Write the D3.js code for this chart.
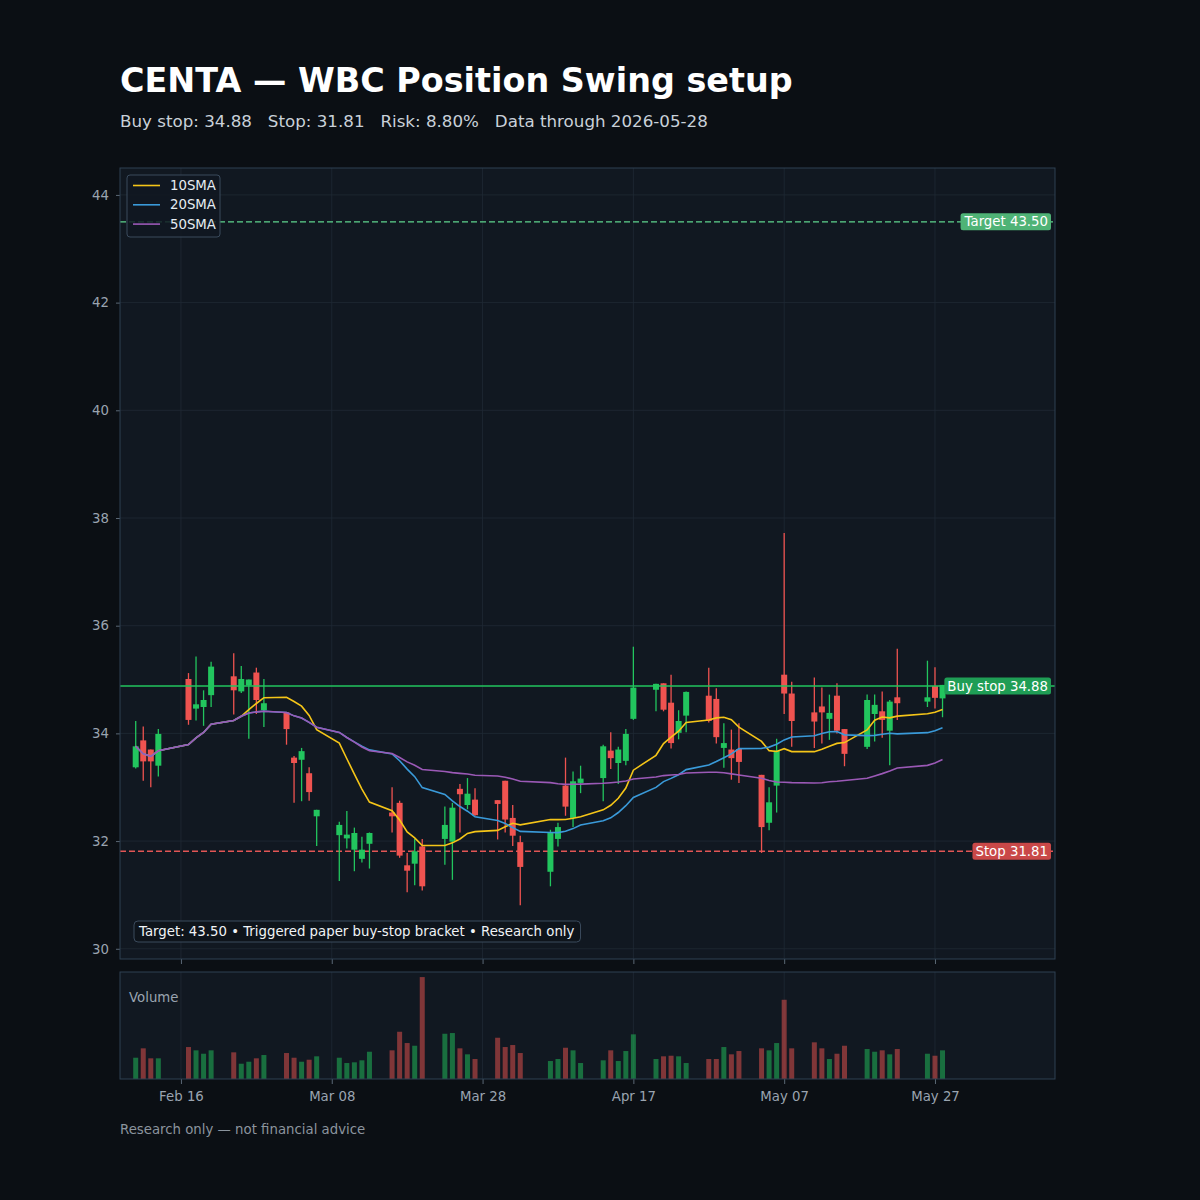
<!DOCTYPE html>
<html><head><meta charset="utf-8">
<script src="https://cdn.jsdelivr.net/npm/d3@7"></script>
<style>
html,body{margin:0;padding:0;background:#0b0f14;}
svg{display:block;font-family:"DejaVu Sans",sans-serif;}
text{white-space:pre;}
</style>
</head><body>
<svg id="c" width="1200" height="1200"></svg>
<script>
// ---------- data ----------
const dates = ["2026-02-10","2026-02-11","2026-02-12","2026-02-13","2026-02-17","2026-02-18","2026-02-19","2026-02-20",
"2026-02-23","2026-02-24","2026-02-25","2026-02-26","2026-02-27","2026-03-02","2026-03-03","2026-03-04","2026-03-05","2026-03-06",
"2026-03-09","2026-03-10","2026-03-11","2026-03-12","2026-03-13","2026-03-16","2026-03-17","2026-03-18","2026-03-19","2026-03-20",
"2026-03-23","2026-03-24","2026-03-25","2026-03-26","2026-03-27","2026-03-30","2026-03-31","2026-04-01","2026-04-02",
"2026-04-06","2026-04-07","2026-04-08","2026-04-09","2026-04-10","2026-04-13","2026-04-14","2026-04-15","2026-04-16","2026-04-17",
"2026-04-20","2026-04-21","2026-04-22","2026-04-23","2026-04-24","2026-04-27","2026-04-28","2026-04-29","2026-04-30","2026-05-01",
"2026-05-04","2026-05-05","2026-05-06","2026-05-07","2026-05-08","2026-05-11","2026-05-12","2026-05-13","2026-05-14","2026-05-15",
"2026-05-18","2026-05-19","2026-05-20","2026-05-21","2026-05-22","2026-05-26","2026-05-27","2026-05-28"];
const opens  = [33.37,33.87,33.70,33.40,35.01,34.46,34.49,34.71,35.06,34.78,34.89,35.13,34.43,34.39,33.55,33.51,33.26,32.46,
32.11,32.05,31.84,31.67,31.95,32.53,32.71,31.55,31.58,31.90,32.04,31.99,32.97,32.67,32.77,32.76,33.12,32.43,31.98,
31.43,32.04,33.03,32.43,33.08,33.17,33.68,33.45,33.49,34.27,34.81,34.93,34.57,34.01,34.33,34.70,34.64,33.73,33.70,33.71,
33.23,32.34,33.03,35.09,34.74,34.39,34.50,34.27,34.70,34.08,33.75,34.36,34.41,34.05,34.67,34.59,34.88,34.65];
const highs  = [34.23,34.13,33.70,34.08,35.12,35.43,34.80,35.33,35.49,35.25,35.00,35.22,35.01,34.39,33.58,33.73,33.37,32.58,
32.36,32.56,32.25,32.08,32.16,33.00,32.75,31.78,32.04,32.04,32.64,32.71,33.06,33.17,32.98,32.76,33.12,32.67,32.10,
32.21,32.34,33.55,33.29,33.40,33.79,34.02,33.75,34.08,35.61,34.92,34.93,35.09,34.43,34.78,35.22,34.84,34.19,34.07,34.19,
33.23,33.00,33.90,37.72,34.96,35.04,34.85,34.72,34.93,34.08,34.72,34.72,34.78,34.62,35.57,35.35,35.23,34.90];
const lows   = [33.35,33.12,33.00,33.20,34.16,34.24,34.14,34.49,34.35,34.75,33.90,34.36,34.12,33.79,32.71,32.74,32.75,31.91,
31.26,31.86,31.44,31.60,31.49,32.16,31.69,31.05,31.18,31.08,31.56,31.28,32.16,32.59,32.47,32.03,32.16,31.91,30.81,
31.16,31.90,32.47,32.26,32.89,32.74,33.34,33.06,33.41,34.25,34.41,34.41,33.72,33.89,34.02,34.20,33.81,33.36,33.14,33.08,
31.78,32.20,32.53,34.36,33.75,33.73,33.81,33.88,34.00,33.39,33.71,33.85,33.92,33.41,34.25,34.49,34.46,34.30];
const closes = [33.76,33.48,33.48,33.99,34.25,34.54,34.62,35.24,34.80,35.01,35.00,34.62,34.56,34.08,33.45,33.67,32.91,32.58,
32.30,32.12,32.15,31.84,32.15,32.46,31.73,31.45,31.81,31.16,32.30,32.62,32.87,32.88,32.48,32.69,32.40,32.10,31.52,
32.16,32.26,32.64,33.11,33.16,33.76,33.54,33.70,33.99,34.85,34.92,34.44,33.82,34.23,34.77,34.23,33.93,33.82,33.54,33.47,
32.26,32.72,33.68,34.74,34.23,34.22,34.39,34.38,34.05,33.62,34.62,34.53,34.25,34.59,34.56,34.67,34.66,34.90];
const volumes = [213,307,207,207,320,287,253,287,267,153,173,207,240,260,213,173,193,227,
213,160,167,187,273,287,473,360,333,1020,453,460,307,247,200,413,320,340,260,
180,200,313,287,160,187,287,180,280,447,200,227,233,227,160,200,200,320,247,280,
307,287,360,793,307,367,307,200,253,333,300,273,287,247,300,253,233,287].map(v => v * 1000);

const yTickValues = [30,32,34,36,38,40,42,44];
const xTickDates = ["2026-02-16","2026-03-08","2026-03-28","2026-04-17","2026-05-07","2026-05-27"];
const smaPeriods = [10,20,50];
const smaNames = ["10SMA","20SMA","50SMA"];
const smaColors = ["#f5c518","#3a9ad9","#9b59b6"];
const buyStop = 34.88, stopLevel = 31.81, target = 43.50;
const titleText = "CENTA — WBC Position Swing setup";
const subtitleText = "Buy stop: 34.88   Stop: 31.81   Risk: 8.80%   Data through 2026-05-28";
const noteText = "Target: 43.50 • Triggered paper buy-stop bracket • Research only";
const footerText = "Research only — not financial advice";

// ---------- setup ----------
const UP = "#22c55e", DOWN = "#ef5350";
const FS = 13.3;
const parse = d3.timeParse("%Y-%m-%d");
const rows = dates.map((d,i)=>({date:parse(d), o:opens[i], h:highs[i], l:lows[i], c:closes[i], v:volumes[i]}));
const svg = d3.select("#c");
svg.append("rect").attr("width",1200).attr("height",1200).attr("fill","#0b0f14");

const L = 120, R = 1055, PT = 168, PB = 959, VT = 972, VB = 1079;
const x = d3.scaleTime().domain([new Date(2026,1,7,22), new Date(2026,5,11,22)]).range([L,R]);
const y = d3.scaleLinear().domain([29.81,44.5]).range([PB,PT]);
const yv = d3.scaleLinear().domain([0, d3.max(volumes)*1.05]).range([VB,VT]);
const xt = xTickDates.map(parse);

// panels
svg.append("rect").attr("x",L).attr("y",PT).attr("width",R-L).attr("height",PB-PT).attr("fill","#111821");
svg.append("rect").attr("x",L).attr("y",VT).attr("width",R-L).attr("height",VB-VT).attr("fill","#111821");

// grid
const grid = svg.append("g").attr("stroke","#1f2a35").attr("stroke-width",0.8);
yTickValues.forEach(v => grid.append("line").attr("x1",L).attr("x2",R).attr("y1",y(v)).attr("y2",y(v)));
xt.forEach(d => {
  grid.append("line").attr("x1",x(d)).attr("x2",x(d)).attr("y1",PT).attr("y2",PB);
  grid.append("line").attr("x1",x(d)).attr("x2",x(d)).attr("y1",VT).attr("y2",VB);
});

// axes
function styleAxis(g){
  g.select(".domain").remove();
  g.selectAll(".tick line").attr("stroke","#5b6875");
  g.selectAll(".tick text").attr("fill","#9aa4b0").attr("font-size",FS).attr("font-family","DejaVu Sans, sans-serif");
}
svg.append("g").attr("transform",`translate(${L},0)`)
  .call(d3.axisLeft(y).tickValues(yTickValues).tickSize(4).tickPadding(7).tickFormat(d3.format("d"))).call(styleAxis);
svg.append("g").attr("transform",`translate(0,${PB})`)
  .call(d3.axisBottom(x).tickValues(xt).tickSize(5).tickFormat("")).call(styleAxis);
svg.append("g").attr("transform",`translate(0,${VB})`)
  .call(d3.axisBottom(x).tickValues(xt).tickSize(5).tickPadding(8).tickFormat(d3.timeFormat("%b %d"))).call(styleAxis);

// volume bars
svg.append("g").selectAll("rect").data(rows).join("rect")
  .attr("x",d=>x(d.date)-2.5).attr("width",5)
  .attr("y",d=>yv(d.v)).attr("height",d=>VB-yv(d.v))
  .attr("fill",d=>d.c>=d.o?UP:DOWN).attr("fill-opacity",0.5);
svg.append("text").attr("x",129).attr("y",1002).attr("fill","#9aa4b0").attr("font-size",FS).text("Volume");

// level lines
function level(v,color,dash,width){
  svg.append("line").attr("x1",L).attr("x2",R).attr("y1",y(v)).attr("y2",y(v))
    .attr("stroke",color).attr("stroke-width",width).attr("stroke-dasharray",dash);
}
level(target,"#5fd38d","6,3",1.4);
level(stopLevel,"#e25555","6,3",1.4);

// candles
const cg = svg.append("g");
cg.selectAll("line").data(rows).join("line")
  .attr("x1",d=>x(d.date)).attr("x2",d=>x(d.date)).attr("y1",d=>y(d.h)).attr("y2",d=>y(d.l))
  .attr("stroke",d=>d.c>=d.o?UP:DOWN).attr("stroke-width",1.3);
cg.selectAll("rect").data(rows).join("rect")
  .attr("x",d=>x(d.date)-3).attr("width",6)
  .attr("y",d=>y(Math.max(d.o,d.c))).attr("height",d=>Math.max(1,Math.abs(y(d.o)-y(d.c))))
  .attr("fill",d=>d.c>=d.o?UP:DOWN);

level(buyStop,"#22c55e","none",1.6);

// moving averages (derived from the closes)
smaPeriods.forEach((n,k)=>{
  const vals = closes.map((c,i)=>d3.mean(closes.slice(Math.max(0,i-n+1), i+1)));
  svg.append("path").datum(vals)
    .attr("d", d3.line().x((v,i)=>x(rows[i].date)).y(v=>y(v)))
    .attr("fill","none").attr("stroke",smaColors[k]).attr("stroke-width",1.6);
});

// level labels
function tag(v,label,fill){
  const g = svg.append("g");
  const t = g.append("text").attr("x",1048).attr("y",y(v)+4.5).attr("text-anchor","end")
    .attr("fill","#ffffff").attr("font-size",FS).text(label);
  const b = t.node().getBBox();
  g.insert("rect","text").attr("x",b.x-3).attr("y",y(v)-8.5).attr("width",b.width+6).attr("height",17)
    .attr("rx",2.5).attr("fill",fill);
}
tag(target,"Target 43.50","#4fb376");
tag(buyStop,"Buy stop 34.88","#1f9d55");
tag(stopLevel,"Stop 31.81","#c94848");

// legend
const lg = svg.append("g");
lg.append("rect").attr("x",127).attr("y",175).attr("width",93).attr("height",62).attr("rx",3)
  .attr("fill","#111821").attr("fill-opacity",0.85).attr("stroke","#3a4a5c");
smaNames.forEach((nm,k)=>{
  const yy = 185.5 + k*19.3;
  lg.append("line").attr("x1",133).attr("x2",160).attr("y1",yy).attr("y2",yy).attr("stroke",smaColors[k]).attr("stroke-width",1.6);
  lg.append("text").attr("x",170).attr("y",yy+4.5).attr("fill","#e6edf3").attr("font-size",FS).text(nm);
});

// note box
const ng = svg.append("g");
const nt = ng.append("text").attr("x",139).attr("y",936).attr("fill","#f0f3f6").attr("font-size",FS).text(noteText);
const nb = nt.node().getBBox();
ng.insert("rect","text").attr("x",134).attr("y",921).attr("width",nb.width+10).attr("height",21).attr("rx",4)
  .attr("fill","#0e141b").attr("fill-opacity",0.9).attr("stroke","#3a4a5c");

// titles
svg.append("text").attr("x",120).attr("y",92).attr("fill","#ffffff").attr("font-size",33.4).attr("font-weight","bold").text(titleText);
svg.append("text").attr("x",120).attr("y",127).attr("fill","#c9d1d9").attr("font-size",16.7).text(subtitleText);
svg.append("text").attr("x",120).attr("y",1134).attr("fill","#8b949e").attr("font-size",FS).text(footerText);

// panel borders
svg.append("rect").attr("x",L).attr("y",PT).attr("width",R-L).attr("height",PB-PT).attr("fill","none").attr("stroke","#2f4052");
svg.append("rect").attr("x",L).attr("y",VT).attr("width",R-L).attr("height",VB-VT).attr("fill","none").attr("stroke","#2f4052");
</script>
</body></html>
